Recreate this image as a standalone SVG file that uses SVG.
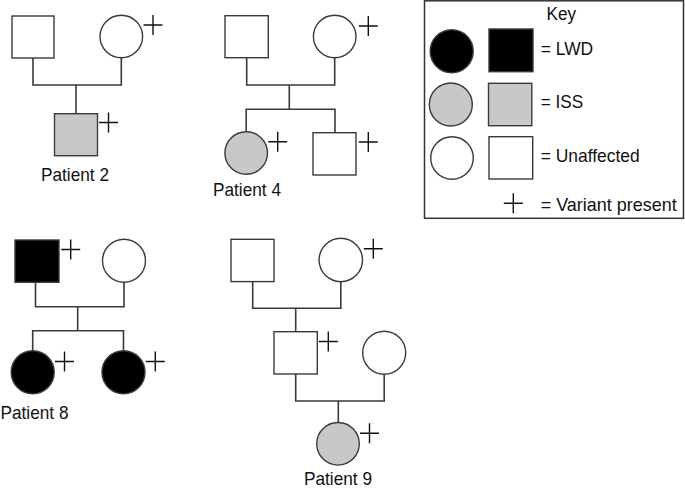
<svg xmlns="http://www.w3.org/2000/svg" xmlns:xlink="http://www.w3.org/1999/xlink" width="685" height="490" viewBox="0 0 685 490">
<style>
.sym{stroke:#3a3a3a;stroke-width:1.4}
.un{fill:#fff}
.iss{fill:#c8c8c8}
.lwd{fill:#000}
.ln{fill:none;stroke:#3a3a3a;stroke-width:1.6}
.pl{fill:none;stroke:#111;stroke-width:1.4}
.t{font-family:"Liberation Sans",Arial,sans-serif;font-size:19px;fill:#111}
.lab{text-anchor:middle}
</style>
<defs>
<path id="plus" d="M-9.5 0H9.5M0 -10V10"/>
</defs>
<rect width="685" height="490" fill="#fff"/>
<g id="connectors">
<path class="ln" d="M33 58V85H121.3V58M76 85V113.7"/>
<path class="ln" d="M246.7 58V85H334.7V58M289.3 85V109.3M246.2 131.7V109.3H335V132.7"/>
<path class="ln" d="M35.5 282.3V306.7H124V282.3M77.7 306.7V330.7M32.7 350.8V330.7H123.5V350.8"/>
<path class="ln" d="M252.7 281.7V308.3H340.8V281.7M295.7 308.3V331.7M295.7 374V401H384.2V374.3M338.3 401V422.5"/>
</g>
<g id="p2-father"><rect class="sym un" x="12" y="16" width="42" height="42"/></g>
<g id="p2-mother"><circle class="sym un" cx="121.3" cy="36.5" r="21.3"/><use class="pl" xlink:href="#plus" x="153" y="25"/></g>
<g id="patient2"><rect class="sym iss" x="54.5" y="113.7" width="43" height="42"/><use class="pl" xlink:href="#plus" x="108.5" y="122.5"/><text class="t lab" x="75" y="181" textLength="68" lengthAdjust="spacingAndGlyphs">Patient 2</text></g>
<g id="p4-father"><rect class="sym un" x="225" y="15.7" width="43.3" height="42"/></g>
<g id="p4-mother"><circle class="sym un" cx="334.7" cy="36.5" r="21.3"/><use class="pl" xlink:href="#plus" x="368.3" y="26"/></g>
<g id="patient4"><circle class="sym iss" cx="246.2" cy="153" r="21.3"/><use class="pl" xlink:href="#plus" x="277.7" y="141.7"/><text class="t lab" x="247" y="196" textLength="68" lengthAdjust="spacingAndGlyphs">Patient 4</text></g>
<g id="p4-brother"><rect class="sym un" x="313" y="132.7" width="43" height="42.3"/><use class="pl" xlink:href="#plus" x="368.3" y="142"/></g>
<g id="p8-father"><rect class="sym lwd" x="15" y="240" width="44" height="42.3"/><use class="pl" xlink:href="#plus" x="70.7" y="249.5"/></g>
<g id="p8-mother"><circle class="sym un" cx="124" cy="260.8" r="21.5"/></g>
<g id="patient8"><circle class="sym lwd" cx="32.7" cy="372.3" r="21.5"/><use class="pl" xlink:href="#plus" x="64.5" y="361.5"/><text class="t lab" x="34.5" y="418.5" textLength="68" lengthAdjust="spacingAndGlyphs">Patient 8</text></g>
<g id="p8-sister"><circle class="sym lwd" cx="123.5" cy="372.3" r="21.5"/><use class="pl" xlink:href="#plus" x="155.3" y="361.5"/></g>
<g id="p9-grandfather"><rect class="sym un" x="231" y="239.3" width="43" height="42.3"/></g>
<g id="p9-grandmother"><circle class="sym un" cx="340.8" cy="260" r="21.7"/><use class="pl" xlink:href="#plus" x="373.3" y="248.7"/></g>
<g id="p9-father"><rect class="sym un" x="274" y="331.7" width="43.3" height="42.3"/><use class="pl" xlink:href="#plus" x="328.3" y="341.5"/></g>
<g id="p9-mother"><circle class="sym un" cx="384.2" cy="352.8" r="21.5"/></g>
<g id="patient9"><circle class="sym iss" cx="338" cy="443.8" r="21.3"/><use class="pl" xlink:href="#plus" x="369.5" y="433.3"/><text class="t lab" x="338" y="484.5" textLength="68" lengthAdjust="spacingAndGlyphs">Patient 9</text></g>
<g id="key">
<rect x="424.5" y="0.8" width="259" height="217.5" fill="#fff" stroke="#333" stroke-width="1.5"/>
<text class="t" x="546.5" y="20" style="font-size:17.5px" textLength="29.5" lengthAdjust="spacingAndGlyphs">Key</text>
<circle class="sym lwd" cx="451.7" cy="51.3" r="21.5"/>
<rect class="sym lwd" x="489" y="29" width="44" height="42.7"/>
<text class="t" x="540.7" y="55" textLength="52.5" lengthAdjust="spacingAndGlyphs">= LWD</text>
<circle class="sym iss" cx="450.8" cy="104.5" r="21.5"/>
<rect class="sym iss" x="488.5" y="83.3" width="43.3" height="42.4"/>
<text class="t" x="540.7" y="107.7" textLength="42.5" lengthAdjust="spacingAndGlyphs">= ISS</text>
<circle class="sym un" cx="452" cy="158" r="21.3"/>
<rect class="sym un" x="489" y="136.7" width="43.7" height="42.3"/>
<text class="t" x="540.7" y="161.7" textLength="99" lengthAdjust="spacingAndGlyphs">= Unaffected</text>
<use class="pl" xlink:href="#plus" x="513.3" y="203.3"/>
<text class="t" x="540.7" y="211" textLength="136" lengthAdjust="spacingAndGlyphs">= Variant present</text>
</g>
</svg>
